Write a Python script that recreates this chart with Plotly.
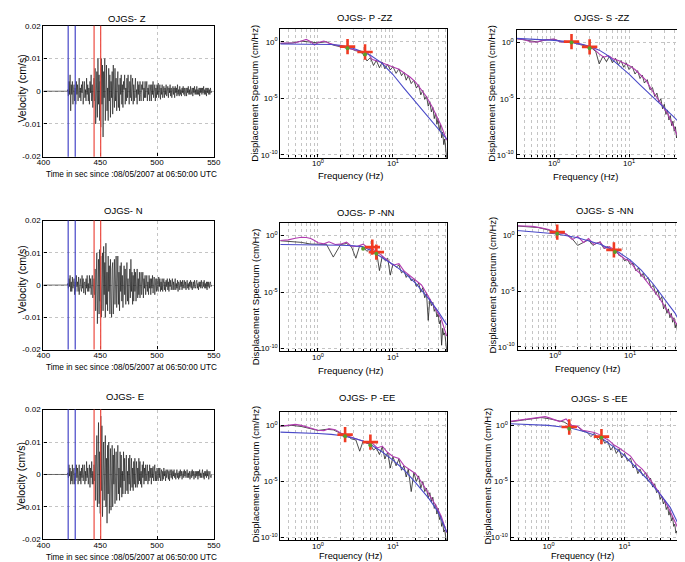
import numpy as np
import plotly.graph_objects as go

W, H = 685, 562

# ---- velocity records: one sample every 0.5 s from 400 s, values in 1e-3 cm/s ----
t_start = 400.0
dt = 0.5
vel_unit = 1e-3

vel_z = [0] * 43 + [
    0.5, -1.5, 3, -1, 5, -6, 2,
    -1, 3, -4, 0.5, 2, -3, 1, -4, 3, -1,
    2, -3, 0.5, 4, -2, 1, -3, 2, -0.5, 3,
    -4, 1, 3, -2, 0.5, -3, 4, -1, 2, -3,
    1, -4, 3, -0.5, 5, -3, 2, -5, 1, 4,
    -3, 7, -10, 2, 6, -8, 10, -4, 5, -9,
    3, -11, 10, -4, 8, -14, 6, -2, 10, -9,
    2, 8, -6, 1, -9, 7, -3, 5, -8, 3,
    -2, 6, -7, 8, -1, -5, 7, -3, 4, -6,
    1, 6, -5, 2, -6, 4, -1, 5, -4, 2,
    -5, 3, 0.5, 5, -4, 1, -3, 4, -2, 5,
    -1, -4, 3, -2, 5, -3, 1, 4, -4, 2,
    -3, 1, 4, -2, 0.5, -4, 3, -1, 2, -3,
    3, -1, -3, 2, 0.5, 3, -3, 1, -2, 3,
    -2, 1, 3, -3, 1, -1, 2, -3, 0.5, 2,
    -3, 2, -1, 3, -2, 0.5, 2, -3, 1, -2,
    2, -1, 2.5, -2, 0.5, 2, -2.5, 1, -1, 2,
    -2, 0.5, 1.5, -2, 1, -1, 2, -1.5, 0.5, 1.5,
    -2, 1, -0.5, 2, -1.5, 1, -2, 0.5, 1.5, -1,
    1, -2, 1.5, -0.5, 1, -1.5, 2, -1, 0.5, -1.5,
    1.5, -1, 0.5, -1.5, 1, -0.5, 1.5, -1, 1, -1.5,
    0.5, 1, -1.5, 1, -0.5, 1.5, -1, 0.5, -1, 1.5,
    -1, 0.5, 1, -1.5, 1, -0.5, 1.5, -1, 0.5, -1,
    1.5, -1, 0.5, -1, 1, -1.5, 1, -0.5, 1, -1,
    1, -0.5, 1.5, -1, 0.5, -1, 1, -1.5, 1, -0.5,
    1, -1, 0.5, -1, 1, -0.5, 0,
]

vel_n = [0] * 43 + [
    0.5, -1, 2, -0.5, 3, -2, 1,
    -2, 2.5, -1, 0.5, 2, -3, 1, -2, 3, -0.5,
    1, -2, 2.5, -3, 0.5, 2, -1, -2, 3, -1,
    2, -2.5, 0.5, 1, -3, 2, -1, 3, -2, 0.5,
    -2, 3, -1, 2, -3, 0.5, 3, -4, 1, 2,
    -3, 5, -8, 2, 10, -12, 4, 8, -9, 11,
    -5, 9, -10, 3, 10, -8, 12, -3, 7, -10,
    13, -6, 4, -8, 9, -2, 6, -9, 8, -4,
    -10, 5, 7, -9, 2, 8, -6, 3, 9, -7,
    1, 9, -6, 4, -8, 6, -2, 7, -5, 3,
    -7, 4, 6, -3, 5, -6, 1, 7, -5, 2,
    -6, 3, 5, -4, 8, -2, 4, -6, 3, -5,
    5, -2, 4, -5, 1, 5, -4, 2, -3, 4,
    -4, 1, 4, -3, 0.5, 4, -4, 2, -1, 3,
    -3, 2, 3, -2, 1, -3, 3, -1, 2, -3,
    2, -1, 3, -2.5, 0.5, 2.5, -3, 1, 2, -2,
    2, -1, -2, 2.5, -0.5, 2, -2, 1, -1.5, 2,
    -2, 0.5, 2, -1.5, 1, -2, 1.5, -0.5, 2, -1.5,
    1, -2, 2, -0.5, 1.5, -1.5, 0.5, 2, -1.5, 1,
    -1.5, 1, 2, -1.5, 0.5, -1, 1.5, -2, 1, 0.5,
    -1.5, 1.5, -0.5, 1, -1.5, 1.5, -1, 0.5, 1.5, -1,
    1, -1.5, 0.5, 1.5, -1, 0.5, -1.5, 1, -0.5, 1.5,
    -1, 1, -1.5, 0.5, 1, -1, 1.5, -0.5, -1, 1,
    1.5, -1, 0.5, -1.5, 1, -0.5, 1, -1, 1.5, -0.5,
    -1, 1, -0.5, 1.5, -1, 0.5, -1, 1, -1.5, 1,
    -0.5, 1, -1, 0.5, 1, -0.5, 0,
]

vel_e = [0] * 43 + [
    0.5, -1, 3, -0.5, 2, -3, 1,
    -2, 3, -3, 1, 2, -3, 0.5, -2, 3, -1,
    2, -3, 0.5, 3, -2, 1, -3, 2, -1, 3,
    -2, 0.5, 3, -3, 1, -2, 4, -1, 2, -3,
    1, 3, -4, 2, -1, 4, -3, 1, -3, 3,
    -2, 6, -8, 3, 12, -10, 4, 16, -9, 7,
    -12, 18, -5, 15, -13, 6, 10, -8, 3, 12,
    -10, 5, -15, 9, -6, 10, -12, 3, 8, -11,
    4, 9, -10, 6, -3, 8, -9, 2, 7, -8,
    3, 9, -6, 2, -8, 7, -4, 6, -7, 1,
    -6, 7, -2, 5, -6, 3, 6, -5, 1, -6,
    5, -3, 6, -5, 1, 5, -4, 2, -5, 4,
    -3, 5, -4, 1, 4, -4, 2, -3, 5, -2,
    4, -3, 1, -4, 3, -1, 4, -3, 2, -2,
    3, -2, 0.5, 3, -3, 1, -2, 3, -1, 2,
    -3, 2, -1, 2.5, -2, 0.5, 3, -2, 1, -2,
    2, -0.5, -2, 2, -1, 2, -2, 0.5, 1.5, -2,
    1, -1.5, 2, -0.5, 1, -2, 1.5, -1, 0.5, 1.5,
    -1.5, 1, -2, 1.5, 0.5, -1, 1.5, -1.5, 1, -0.5,
    1.5, -1, 0.5, -1.5, 1, 1.5, -1, 0.5, -1.5, 1,
    -1, 1.5, -0.5, 1, -1.5, 0.5, 1, -1, 1.5, -0.5,
    1, -1, 0.5, 1.5, -1, 0.5, -1, 1, -1.5, 0.5,
    1, -1, 1.5, -0.5, 1, -1.5, 0.5, 1, -1, 1,
    -0.5, 1, -1.5, 1, -0.5, 1.5, -1, 0.5, -1, 1,
    1.5, -1, 0.5, -1.5, 1, -0.5, 1, -1, 1.5, -0.5,
    1, -1.5, 0.5, 1, -0.5, -1, 0,
]

p_window = [421.8, 428.0]
s_window = [444.6, 450.4]
time_ticks = [400, 450, 500, 550]
vel_ticks = [-0.02, -0.01, 0, 0.01, 0.02]
vel_tick_text = ["-0.02", "-0.01", "0", "0.01", "0.02"]

# ---- spectra: frequency in Hz, amplitude as log10 (cm/Hz) ----
f_raw = [0.3, 0.45, 0.6, 0.8, 1.0, 1.3, 1.6, 2.0, 2.4, 2.8, 3.2, 3.6, 4.0, 4.5,
         5.0, 5.5, 6.0, 6.6, 7.2, 7.8, 8.5, 9.2, 10, 11, 12, 13, 14, 15, 16,
         17.5, 19, 20.5, 22, 23.5, 25, 26.5, 28, 29.5, 31, 32.5, 34, 35.5, 37,
         38.5, 40, 41.5, 43, 44.5, 46, 47.5, 49, 50.5, 52]
f_smooth = [0.3, 0.4, 0.5, 0.6, 0.7, 0.8, 0.9, 1.0, 1.2, 1.4, 1.7, 2.0, 2.4, 2.8,
            3.3, 4.0, 4.6, 5.3, 6.2, 7.2, 8.5, 10, 12, 14, 17, 20, 24, 28, 33,
            38, 44, 52]
f_model = [0.3, 0.5, 1, 1.5, 2, 3, 4, 5, 7, 10, 14, 20, 30, 40, 52]

pzz_raw = [-0.15, -0.12, 0.05, -0.05, -0.1, 0.0, -0.3, -0.45, -0.55, -0.65,
           -0.8, -0.85, -1.1, -1.7, -1.4, -2.1, -1.65, -2.3, -1.8, -2.4,
           -2.0, -2.5, -2.2, -2.8, -2.4, -3.0, -2.7, -3.4, -3.0, -3.7,
           -3.4, -4.1, -3.8, -4.7, -4.3, -5.1, -4.8, -5.7, -5.3, -6.2,
           -5.8, -6.8, -6.3, -7.3, -6.8, -7.9, -7.3, -8.5, -8.0, -9.1,
           -8.6, -9.8, -10.4]
pzz_smooth = [-0.14, -0.14, -0.09, 0.06, 0.2, 0.0, -0.29, -0.06, 0.06, -0.14,
              -0.29, -0.43, -0.51, -0.63, -0.77, -0.91, -1.0, -1.57, -1.71, -1.86,
              -2.0, -2.23, -2.43, -2.71, -3.14, -3.57, -4.29, -4.86, -5.71, -6.57,
              -7.43, -8.71]
pzz_model = [-0.2, -0.2, -0.21, -0.25, -0.32, -0.6, -0.9, -1.2, -1.85, -2.9,
             -4.1, -5.3, -6.7, -7.65, -8.6]
pzz_corner_f = [2.48, 4.24]
pzz_corner_a = [-0.43, -0.91]
pzz_dot_f = [2.48, 4.24]
pzz_dot_a = [-0.57, -1.14]

szz_raw = [0.38, 0.2, 0.06, 0.26, 0.3, 0.05, 0.1, -0.1, -0.2, -0.35,
           -0.5, -0.8, -1.9, -1.2, -1.7, -1.2, -1.8, -1.4, -2.0, -1.6,
           -2.2, -1.8, -2.4, -2.1, -2.8, -2.5, -3.2, -2.9, -3.6, -3.3,
           -4.2, -4.0, -4.8, -4.5, -5.3, -5.0, -5.9, -5.5, -6.4, -6.0,
           -6.9, -6.5, -7.4, -7.0, -7.9, -7.5, -8.5, -8.1, -9.1, -8.7,
           -9.6, -9.9, -10.4]
szz_smooth = [0.38, 0.26, 0.06, 0.06, 0.2, 0.26, 0.29, 0.32, 0.09, 0.03,
              0.12, -0.09, -0.17, -0.32, -0.49, -1.0, -1.3, -1.16, -1.45, -1.6,
              -1.8, -2.03, -2.4, -2.81, -3.39, -4.2, -4.93, -5.65, -6.38, -7.25,
              -8.26, -10.0]
szz_model = [0.38, 0.32, 0.2, 0.09, -0.03, -0.32, -0.67, -1.07, -1.88, -2.81,
             -3.77, -4.72, -5.86, -6.67, -7.45]
szz_corner_f = [1.71, 2.98]
szz_corner_a = [0.09, -0.38]
szz_dot_f = [1.71, 2.98]
szz_dot_a = [0.0, -0.5]

pnn_raw = [-0.45, -0.5, -0.6, -0.75, -0.75, -0.78, -1.9, -0.8, -0.7, -1.0,
           -2.0, -0.9, -1.0, -1.4, -1.1, -1.6, -1.3, -3.1, -1.8, -2.2,
           -2.0, -3.5, -2.5, -2.8, -2.6, -3.3, -3.1, -3.7, -3.4, -4.0,
           -3.8, -4.5, -4.2, -5.0, -4.6, -5.5, -5.1, -7.5, -5.6, -6.2,
           -5.9, -6.7, -6.4, -7.2, -6.9, -7.8, -7.5, -9.7, -8.2, -8.8,
           -8.6, -9.4, -10.2]
pnn_smooth = [-0.44, -0.38, -0.23, -0.15, -0.17, -0.26, -0.44, -0.64, -0.73, -0.55,
              -0.79, -0.76, -0.58, -0.93, -0.96, -0.76, -1.08, -1.17, -1.46, -1.78,
              -2.19, -2.62, -2.48, -3.12, -3.59, -3.94, -4.37, -5.1, -5.92, -6.56,
              -7.38, -8.89]
pnn_model = [-0.79, -0.79, -0.8, -0.82, -0.85, -0.9, -1.0, -1.3, -1.9, -2.55,
             -3.25, -4.2, -5.6, -6.7, -7.9]
pnn_corner_f = [5.3, 6.0]
pnn_corner_a = [-1.02, -1.46]
pnn_dot_f = [4.0, 6.0]
pnn_dot_a = [-1.17, -1.6]

snn_raw = [0.85, 0.8, 0.7, 0.5, 0.3, 0.2, -0.1, -0.9, -0.6, -0.4,
           -0.9, -0.7, -0.6, -1.2, -1.0, -1.2, -1.4, -1.5, -1.8, -1.9,
           -2.3, -2.1, -2.6, -2.5, -3.2, -2.9, -3.7, -3.4, -4.0, -3.8,
           -4.7, -4.5, -5.3, -4.9, -5.8, -5.5, -6.6, -6.2, -7.0, -6.6,
           -7.4, -7.0, -7.8, -7.4, -8.3, -7.9, -8.7, -8.4, -9.2, -8.9,
           -9.7, -9.9, -10.3]
snn_smooth = [0.87, 0.84, 0.81, 0.72, 0.64, 0.55, 0.43, 0.32, 0.2, 0.14,
              -0.38, -0.09, -0.64, -0.29, -0.81, -0.58, -1.16, -1.01, -1.3, -1.74,
              -2.12, -2.32, -3.1, -3.48, -4.2, -4.78, -5.51, -6.23, -6.96, -7.54,
              -8.12, -8.9]
snn_model = [0.45, 0.3, 0.15, -0.05, -0.22, -0.55, -0.8, -1.1, -1.5, -2.2,
             -3.1, -4.3, -5.9, -7.0, -8.5]
snn_corner_f = [1.07, 6.1]
snn_corner_a = [0.29, -1.3]
snn_dot_f = [1.07, 6.3]
snn_dot_a = [0.15, -1.5]

pee_raw = [-0.1, 0.0, -0.1, -0.3, -0.45, -0.35, -0.4, -0.7, -0.9, -1.2,
           -1.3, -2.3, -1.4, -1.6, -1.7, -2.2, -2.0, -2.6, -1.9, -3.0,
           -2.4, -3.8, -2.8, -3.6, -3.0, -4.0, -3.6, -4.6, -3.9, -5.9,
           -4.2, -5.0, -4.5, -5.6, -5.0, -5.9, -5.6, -6.5, -6.0, -6.8,
           -6.4, -7.4, -7.0, -7.9, -7.4, -8.4, -8.0, -9.0, -8.6, -9.5,
           -9.3, -10.0, -10.4]
pee_smooth = [-0.09, 0.0, 0.09, 0.0, -0.15, -0.26, -0.38, -0.44, -0.47, -0.29,
              -0.38, -0.67, -0.9, -1.05, -1.25, -1.4, -1.55, -1.6, -2.01, -1.84,
              -2.42, -2.77, -2.94, -3.59, -3.94, -4.31, -5.04, -5.77, -6.5, -7.23,
              -8.1, -9.56]
pee_model = [-0.6, -0.63, -0.72, -0.8, -0.9, -1.15, -1.4, -1.7, -2.3, -3.1,
             -3.95, -5.1, -6.5, -7.7, -9.5]
pee_corner_f = [2.3, 5.0]
pee_corner_a = [-0.82, -1.49]
pee_dot_f = [2.3, 5.0]
pee_dot_a = [-0.96, -1.78]

see_raw = [0.3, 0.45, 0.6, 0.7, 0.6, 0.4, 0.3, -0.1, -0.1, -0.5,
           -0.6, -1.0, -0.7, -1.3, -1.0, -1.6, -1.4, -2.2, -1.8, -2.5,
           -2.1, -2.9, -2.5, -3.2, -2.9, -3.8, -3.5, -4.3, -3.9, -4.5,
           -4.2, -5.0, -4.7, -5.5, -5.2, -6.0, -5.8, -6.6, -6.3, -7.0,
           -6.7, -7.5, -7.2, -8.0, -7.6, -8.5, -8.2, -9.0, -8.8, -9.6,
           -9.4, -10.1, -10.4]
see_smooth = [0.34, 0.46, 0.55, 0.63, 0.69, 0.75, 0.78, 0.69, 0.52, 0.34,
              0.57, 0.0, -0.09, -0.43, -0.52, -0.63, -0.8, -1.09, -1.32, -1.72,
              -2.01, -2.36, -2.73, -3.39, -3.88, -4.45, -5.23, -5.89, -6.61, -7.33,
              -8.33, -9.34]
see_model = [0.15, 0.08, 0.0, -0.15, -0.25, -0.57, -0.85, -1.15, -1.85, -2.7,
             -3.7, -4.8, -6.2, -7.3, -8.9]
see_corner_f = [1.87, 4.97]
see_corner_a = [-0.14, -1.0]
see_dot_f = [1.87, 4.97]
see_dot_a = [-0.29, -1.1]

minor_f = [0.4, 0.5, 0.6, 0.7, 0.8, 0.9, 2, 3, 4, 5, 6, 7, 8, 9, 20, 30, 40, 50]

# ---- layout boxes in pixels: (left, right, top, bottom) ----
boxes = {
    1: (29, 203, 14, 147), 2: (271, 441, 17, 148), 3: (512, 682, 18, 148),
    4: (29, 203, 212, 343), 5: (271, 441, 214, 345), 6: (513, 683, 214, 343),
    7: (29, 203, 404, 536), 8: (271, 441, 407, 537), 9: (506, 678, 407, 537),
}

FONT = "Liberation Sans, Arial, sans-serif"
GRID = "#c4c4c4"
BLUE_PICK = "#4646c8"
RED_PICK = "#ec4a40"
MODEL = "#4a4ac8"
SMOOTH = "#b23cb0"

fig = go.Figure()


def ax_names(i):
    return ("x" if i == 1 else f"x{i}"), ("y" if i == 1 else f"y{i}")


def base_axis():
    return dict(showline=True, linecolor="black", linewidth=1.4, mirror=True,
                ticks="inside", ticklen=3, tickcolor="black",
                tickfont=dict(size=8, color="black", family=FONT),
                zeroline=False, showgrid=True, gridcolor=GRID, griddash="dot",
                gridwidth=1)


records = {1: vel_z, 4: vel_n, 7: vel_e}
spectra = {
    2: (pzz_raw, pzz_smooth, pzz_model, pzz_corner_f, pzz_corner_a, pzz_dot_f, pzz_dot_a),
    3: (szz_raw, szz_smooth, szz_model, szz_corner_f, szz_corner_a, szz_dot_f, szz_dot_a),
    5: (pnn_raw, pnn_smooth, pnn_model, pnn_corner_f, pnn_corner_a, pnn_dot_f, pnn_dot_a),
    6: (snn_raw, snn_smooth, snn_model, snn_corner_f, snn_corner_a, snn_dot_f, snn_dot_a),
    8: (pee_raw, pee_smooth, pee_model, pee_corner_f, pee_corner_a, pee_dot_f, pee_dot_a),
    9: (see_raw, see_smooth, see_model, see_corner_f, see_corner_a, see_dot_f, see_dot_a),
}

layout_axes = {}
for i, (l, r, t, b) in boxes.items():
    xn, yn = ax_names(i)
    xa = base_axis()
    ya = base_axis()
    xa.update(domain=[l / W, r / W], anchor=yn)
    ya.update(domain=[1 - b / H, 1 - t / H], anchor=xn)
    if i in records:
        vel = np.array(records[i]) * vel_unit
        t = t_start + dt * np.arange(len(vel))
        fig.add_trace(go.Scatter(x=t, y=vel, mode="lines", xaxis=xn, yaxis=yn,
                                 line=dict(color="#111111", width=0.6)))
        xa.update(range=[400, 550], tickvals=time_ticks, ticklabelstandoff=-2)
        ya.update(range=[-0.02, 0.02], tickvals=vel_ticks, ticktext=vel_tick_text)
        for tp in p_window:
            fig.add_shape(type="line", xref=xn, yref=f"{yn} domain", x0=tp, x1=tp,
                          y0=0, y1=1, line=dict(color=BLUE_PICK, width=1.2))
        for ts in s_window:
            fig.add_shape(type="line", xref=xn, yref=f"{yn} domain", x0=ts, x1=ts,
                          y0=0, y1=1, line=dict(color=RED_PICK, width=1.2))
    else:
        raw, smooth, model, cf, ca, df, da = spectra[i]
        fig.add_trace(go.Scatter(x=f_raw, y=np.power(10.0, raw), mode="lines",
                                 xaxis=xn, yaxis=yn, line=dict(color="#222222", width=0.8)))
        fig.add_trace(go.Scatter(x=f_smooth, y=np.power(10.0, smooth), mode="lines",
                                 xaxis=xn, yaxis=yn, line=dict(color=SMOOTH, width=1.1)))
        fig.add_trace(go.Scatter(x=f_model, y=np.power(10.0, model), mode="lines",
                                 xaxis=xn, yaxis=yn, line=dict(color=MODEL, width=1.1)))
        fig.add_trace(go.Scatter(x=cf, y=np.power(10.0, ca), mode="markers",
                                 xaxis=xn, yaxis=yn,
                                 marker=dict(symbol="cross-thin", size=11,
                                             line=dict(color="#f03a22", width=2.6))))
        fig.add_trace(go.Scatter(x=df, y=np.power(10.0, da), mode="markers",
                                 xaxis=xn, yaxis=yn,
                                 marker=dict(symbol="circle", size=4, color="#5a9e2a")))
        xa.update(type="log", range=[-0.5, 1.72], tickvals=[1, 10],
                  ticktext=["10<sup>0</sup>", "10<sup>1</sup>"], ticklabelstandoff=-2,
                  minor=dict(tickvals=minor_f, showgrid=True, gridcolor=GRID,
                             griddash="dot", ticks="inside", ticklen=2,
                             tickcolor="black"))
        ya.update(type="log", range=[-10.25, 1.15], tickvals=[1e-10, 1e-5, 1],
                  ticktext=["10<sup>-10</sup>", "10<sup>-5</sup>", "10<sup>0</sup>"])
    layout_axes["xaxis" if i == 1 else f"xaxis{i}"] = xa
    layout_axes["yaxis" if i == 1 else f"yaxis{i}"] = ya

# ---- text: panel titles and axis labels (pixel positions) ----
titles = [
    ("OJGS- Z", 114, 7), ("OJGS- P -ZZ", 357, 6), ("OJGS- S -ZZ", 599, 6),
    ("OJGS- N", 111, 202), ("OJGS- P -NN", 358, 204), ("OJGS- S -NN", 602, 202),
    ("OJGS- E", 112, 391), ("OJGS- P -EE", 359, 392), ("OJGS- S -EE", 596, 393),
]
time_label = "Time in sec since :08/05/2007 at 06:50:00 UTC"
xlabels = [
    (time_label, 119, 165, 8.2), ("Frequency (Hz)", 342, 166, 9.5), ("Frequency (Hz)", 582, 167, 9.5),
    (time_label, 119, 361, 8.2), ("Frequency (Hz)", 342, 364, 9.5), ("Frequency (Hz)", 584, 362, 9.5),
    (time_label, 119, 554, 8.2), ("Frequency (Hz)", 342, 553, 9.2), ("Frequency (Hz)", 579, 553, 9.2),
]
ylabels = [
    ("Velocity (cm/s)", 7, 78, 10.5), ("Displacement Spectrum (cm/Hz)", 245, 82, 9.5),
    ("Displacement Spectrum (cm/Hz)", 487, 83, 9.5),
    ("Velocity (cm/s)", 7, 272, 10.5), ("Displacement Spectrum (cm/Hz)", 245, 289, 9.5),
    ("Displacement Spectrum (cm/Hz)", 488, 278, 9.5),
    ("Velocity (cm/s)", 7, 472, 10.5), ("Displacement Spectrum (cm/Hz)", 245, 469, 9.5),
    ("Displacement Spectrum (cm/Hz)", 482, 472, 9.5),
]

annotations = []
for txt, x, y in titles:
    annotations.append(dict(text=txt, x=x / W, y=1 - y / H, xref="paper", yref="paper",
                            xanchor="center", yanchor="middle", showarrow=False,
                            font=dict(size=9.5, color="black", family=FONT)))
for txt, x, y, s in xlabels:
    annotations.append(dict(text=txt, x=x / W, y=1 - y / H, xref="paper", yref="paper",
                            xanchor="center", yanchor="middle", showarrow=False,
                            font=dict(size=s, color="black", family=FONT)))
for txt, x, y, s in ylabels:
    annotations.append(dict(text=txt, x=x / W, y=1 - y / H, xref="paper", yref="paper",
                            xanchor="center", yanchor="middle", showarrow=False,
                            textangle=-90, font=dict(size=s, color="black", family=FONT)))

fig.update_layout(
    width=W, height=H,
    margin=dict(l=0, r=0, t=0, b=0),
    paper_bgcolor="white", plot_bgcolor="white",
    showlegend=False,
    font=dict(family=FONT, color="black"),
    annotations=annotations,
    **layout_axes,
)

fig.write_html("out.html")
